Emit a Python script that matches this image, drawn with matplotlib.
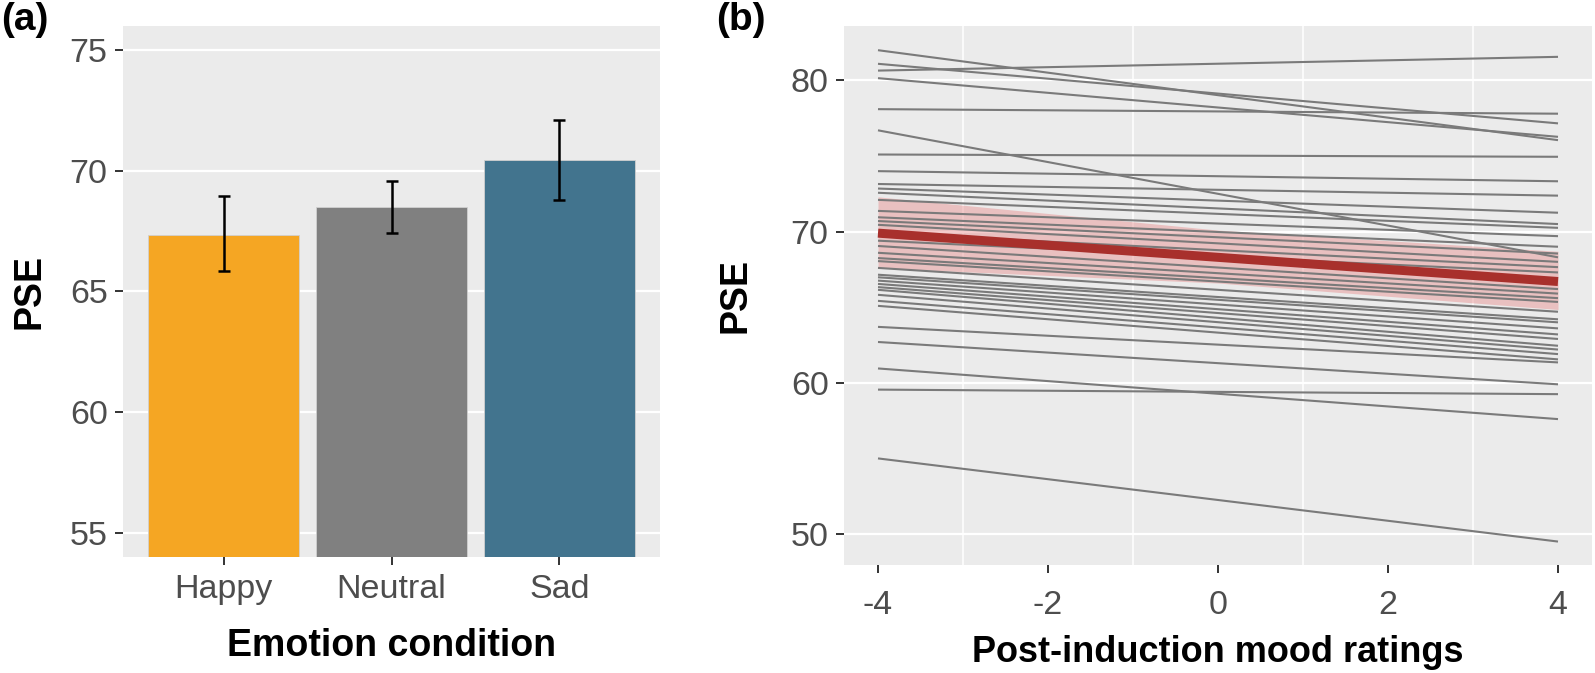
import matplotlib
matplotlib.use('Agg')
import matplotlib.pyplot as plt
import numpy as np

plt.rcParams['font.family'] = ['Liberation Sans', 'DejaVu Sans']

# panel (a): mean PSE per emotion condition, with CI
conditions = ['Happy', 'Neutral', 'Sad']
pse_mean = [67.36, 68.49, 70.45]
ci_low = [65.83, 67.43, 68.80]
ci_high = [68.97, 69.57, 72.11]
bar_colors = ['#F5A623', '#808080', '#42748E']

# panel (b): per-subject fitted lines at mood -4 and 4
mood_x = [-4, 4]
subj_left = [82.0, 81.1, 80.65, 80.15, 78.1, 76.7, 75.1, 74.0, 73.15, 72.85,
             72.57, 72.1, 71.37, 70.95, 70.7, 70.45, 69.9, 69.4, 69.05, 68.6,
             68.25, 68.05, 67.6, 67.15, 66.98, 66.76, 66.54, 66.33, 66.15, 65.82,
             65.42, 65.09, 63.7, 62.7, 60.95, 59.55, 55.0]
subj_right = [76.05, 77.16, 81.56, 76.27, 77.8, 68.3, 74.95, 73.33, 72.38, 71.25,
              70.5, 70.25, 69.7, 69.0, 68.55, 68.0, 67.65, 67.3, 66.2, 65.9,
              65.6, 65.35, 64.7, 64.2, 64.0, 63.6, 63.2, 62.9, 62.45, 62.2,
              61.9, 61.55, 61.35, 59.9, 57.6, 59.25, 49.5]

# group fit and confidence band
fit_x = [-4, 0, 4]
fit_y = [69.9, 68.3, 66.7]
fit_lo = [67.6, 66.6, 64.85]
fit_hi = [72.3, 70.1, 68.7]

fig = plt.figure(figsize=(15.95, 6.73), dpi=100)
W, H = 1595.0, 673.0
ax1 = fig.add_axes([123/W, (H-557)/H, 537/W, 531/H])
ax2 = fig.add_axes([844/W, (H-565)/H, 748/W, 539/H])

for ax in (ax1, ax2):
    ax.set_facecolor('#EBEBEB')
    for s in ax.spines.values():
        s.set_visible(False)
    ax.set_axisbelow(True)
    ax.tick_params(which='major', length=6, width=1.4, color='#333333',
                   labelcolor='#4D4D4D', labelsize=24.5)
    ax.tick_params(which='minor', length=0)

# ---- (a)
x = np.arange(1, len(conditions)+1)
ax1.bar(x, pse_mean, width=0.9, color=bar_colors, edgecolor='#D0D0D0', linewidth=0.6)
yerr = [np.array(pse_mean)-np.array(ci_low), np.array(ci_high)-np.array(pse_mean)]
ax1.errorbar(x, pse_mean, yerr=yerr, fmt='none', ecolor='black', elinewidth=1.8,
             capsize=4, capthick=1.8)
ax1.set_xlim(0.4, 3.6)
ax1.set_ylim(54, 76)
ax1.set_xticks(x)
ax1.set_xticklabels(conditions)
ax1.set_yticks([55, 60, 65, 70, 75])
ax1.grid(axis='y', color='white', linewidth=1.6)
ax1.tick_params(axis='x', pad=6)
ax1.tick_params(axis='y', pad=5)
ax1.set_xlabel('Emotion condition', fontsize=27, fontweight='bold', va='center')
ax1.set_ylabel('PSE', fontsize=27, fontweight='bold', va='center')
ax1.xaxis.set_label_coords(0.5, (557-646)/531)
ax1.yaxis.set_label_coords((30-123)/537, 0.5)

# ---- (b)
for l, r in zip(subj_left, subj_right):
    ax2.plot(mood_x, [l, r], color='#7A7A7A', linewidth=1.5, solid_capstyle='butt')
ax2.fill_between(fit_x, fit_lo, fit_hi, color='#E88C8C', alpha=0.45, linewidth=0)
ax2.plot(fit_x, fit_y, color='#A8302C', linewidth=6.5, solid_capstyle='butt')
ax2.set_xlim(-4.4, 4.4)
ax2.set_ylim(47.95, 83.6)
ax2.set_xticks([-4, -2, 0, 2, 4])
ax2.set_xticklabels(['-4', '-2', '0', '2', '4'])
ax2.set_xticks([-3, -1, 1, 3], minor=True)
ax2.set_yticks([50, 60, 70, 80])
ax2.grid(axis='y', which='major', color='white', linewidth=1.6)
ax2.grid(axis='x', which='minor', color='white', linewidth=1.1)
ax2.tick_params(axis='x', pad=12)
ax2.tick_params(axis='y', pad=5)
ax2.set_xlabel('Post-induction mood ratings', fontsize=26, fontweight='bold', va='center')
ax2.set_ylabel('PSE', fontsize=27, fontweight='bold', va='center')
ax2.xaxis.set_label_coords(0.5, (565-653)/539)
ax2.yaxis.set_label_coords((735-844)/748, 0.5)

fig.text(1/W, 1-2/H, '(a)', fontsize=28, fontweight='bold', va='top', ha='left')
fig.text(716/W, 1-2/H, '(b)', fontsize=28, fontweight='bold', va='top', ha='left')

fig.savefig('out.png', dpi=100)
